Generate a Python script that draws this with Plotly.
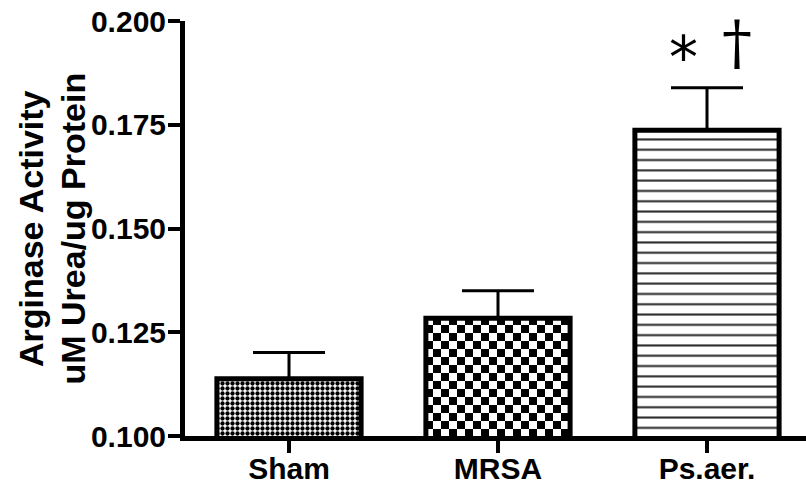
import plotly.graph_objects as go

categories = ["Sham", "MRSA", "Ps.aer."]
means = [0.1138, 0.1284, 0.1737]
sem_plus = [0.0063, 0.0066, 0.0102]
y_ticks = [0.100, 0.125, 0.150, 0.175, 0.200]
y_tick_labels = ["0.100", "0.125", "0.150", "0.175", "0.200"]
title_lines = ["Arginase Activity", "uM Urea/ug Protein"]
sig_marks = ["*", "†"]

FONT = "Liberation Sans, Arial, sans-serif"

fig = go.Figure()
fig.add_trace(go.Bar(
    x=categories,
    y=means,
    width=0.69,
    marker=dict(
        color="white",
        line=dict(color="black", width=5),
        pattern=dict(
            shape=[".", ".", "-"],
            fgcolor=["black", "black", "#2a2a2a"],
            bgcolor="white",
            size=[5, 8, 10.3],
            solidity=[0.58, 0.5, 0.2],
            fillmode="replace",
        ),
    ),
    error_y=dict(
        type="data",
        symmetric=False,
        array=sem_plus,
        arrayminus=[0, 0, 0],
        color="black",
        thickness=3,
        width=36,
    ),
    showlegend=False,
    hoverinfo="skip",
))

fig.update_layout(
    width=806,
    height=492,
    margin=dict(l=185, r=0, t=21, b=56, autoexpand=False),
    paper_bgcolor="white",
    plot_bgcolor="white",
    font=dict(family=FONT, color="black"),
    xaxis=dict(
        range=[-0.4976, 2.4737],
        showline=True, linecolor="black", linewidth=5,
        ticks="outside", ticklen=12, tickwidth=4, tickcolor="black",
        ticklabelstandoff=-10,
        tickfont=dict(family=FONT, size=30, color="black", weight="bold"),
        showgrid=False, zeroline=False, fixedrange=True, automargin=False,
    ),
    yaxis=dict(
        range=[0.1, 0.2],
        tickvals=y_ticks, ticktext=y_tick_labels,
        showline=True, linecolor="black", linewidth=5,
        ticks="outside", ticklen=12, tickwidth=4, tickcolor="black",
        ticklabelstandoff=-4,
        tickfont=dict(family=FONT, size=30, color="black", weight="bold"),
        showgrid=False, zeroline=False, fixedrange=True, automargin=False,
    ),
)

# y-axis title lines
for txt, xs in zip(title_lines, [-154.5, -113]):
    fig.add_annotation(
        text=txt, xref="paper", yref="paper", x=0, y=0.5,
        xanchor="center", yanchor="middle", xshift=xs,
        textangle=-90, showarrow=False,
        font=dict(family=FONT, size=34, color="black", weight="bold"),
    )

# significance marks over Ps.aer.
fig.add_annotation(text=sig_marks[0], x=2, y=0.1910, xref="x", yref="y",
                   xshift=-24, showarrow=False,
                   xanchor="center", yanchor="middle",
                   font=dict(family="DejaVu Sans", size=58, color="black"))
fig.add_annotation(text=sig_marks[1], x=2, y=0.1950, xref="x", yref="y",
                   xshift=30, showarrow=False,
                   xanchor="center", yanchor="middle",
                   font=dict(family="DejaVu Serif", size=60, color="black"))

checker_js = r"""
document.documentElement.style.margin = '0';
document.body.style.margin = '0';
document.body.style.padding = '0';
var gd = document.getElementById('{plot_id}');
function checker(){
  var NS = 'http://www.w3.org/2000/svg';
  var paths = gd.querySelectorAll('.barlayer .trace .point path');
  if (paths.length < 2) return;
  var p = paths[1];
  var fill = p.style.fill || p.getAttribute('fill') || '';
  var m = fill.match(/#([^"')]+)/);
  if (!m) return;
  var pat = document.getElementById(m[1]);
  if (!pat) return;
  while (pat.firstChild) pat.removeChild(pat.firstChild);
  var c = 8;
  pat.setAttribute('width', 2*c);
  pat.setAttribute('height', 2*c);
  pat.setAttribute('patternUnits', 'userSpaceOnUse');
  var bg = document.createElementNS(NS, 'rect');
  bg.setAttribute('x', 0); bg.setAttribute('y', 0);
  bg.setAttribute('width', 2*c); bg.setAttribute('height', 2*c);
  bg.setAttribute('fill', 'white');
  pat.appendChild(bg);
  [[0,0],[c,c]].forEach(function(q){
    var r = document.createElementNS(NS, 'rect');
    r.setAttribute('x', q[0]); r.setAttribute('y', q[1]);
    r.setAttribute('width', c); r.setAttribute('height', c);
    r.setAttribute('fill', 'black');
    pat.appendChild(r);
  });
}
checker();
"""

fig.write_html("out.html", post_script=checker_js, config={"displayModeBar": False})
